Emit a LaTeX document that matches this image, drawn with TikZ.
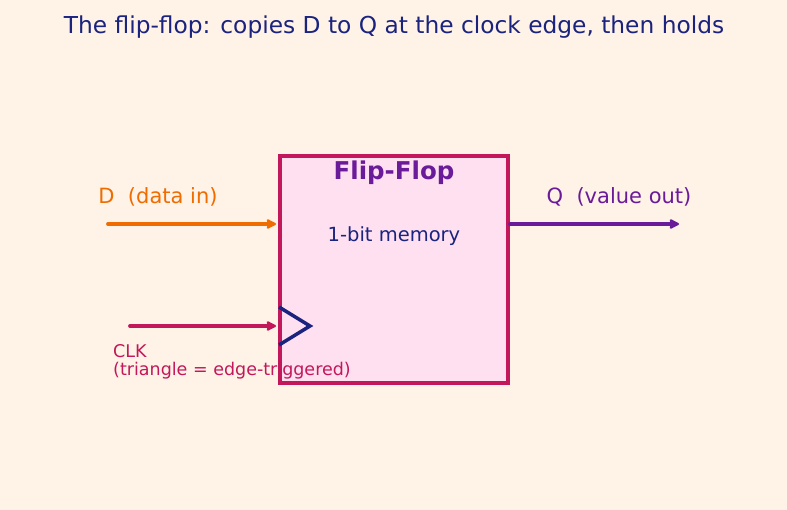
\documentclass[tikz,border=0pt]{standalone}
\usepackage{fontspec}
\setmainfont{DejaVu Sans}
\usetikzlibrary{arrows.meta}
\definecolor{bg}{HTML}{FFF2E6}
\definecolor{boxfill}{HTML}{FFE0F0}
\definecolor{crim}{HTML}{C2185B}
\definecolor{navy}{HTML}{1A237E}
\definecolor{purp}{HTML}{6A1B9A}
\definecolor{orng}{HTML}{EF6C00}
\begin{document}
\begin{tikzpicture}[x=1pt,y=-1pt,
  sig/.style={line width=3.8pt,line cap=round,-{Stealth[length=12pt,width=12pt,inset=3pt,round]}},
  lbl/.style={inner sep=0pt,font=\fontsize{21}{24}\selectfont}]
\fill[bg] (0,0) rectangle (787,510);
\useasboundingbox (0,0) rectangle (787,510);
\node[inner sep=0pt,text=navy,font=\fontsize{23.3}{28}\selectfont] (title) at (394,27) {The flip-flop: copies D to Q at the clock edge, then holds};
\node[draw=crim,fill=boxfill,line width=4.5pt,minimum width=228pt,minimum height=227pt,inner sep=0pt] (ff) at (394,269.5) {};
\node[inner sep=0pt,text=purp,font=\bfseries\fontsize{24.5}{28}\selectfont] (name) at (394,173) {Flip-Flop};
\node[inner sep=0pt,text=navy,font=\fontsize{19.5}{23}\selectfont] (mem) at (394,236) {1-bit memory};
\coordinate (din) at (108,224);
\coordinate (dend) at (276,224);
\draw[sig,orng] (din) -- (dend);
\node[lbl,text=orng] (dl) at (158,197) {D\ \ (data in)};
\coordinate (qs) at (510,224);
\coordinate (qout) at (679,224);
\draw[sig,purp] (qs) -- (qout);
\node[lbl,text=purp] (ql) at (619,197) {Q\ \ (value out)};
\coordinate (cin) at (130,326);
\coordinate (cend) at (276,326);
\draw[sig,crim] (cin) -- (cend);
\coordinate (t1) at (279,307);
\coordinate (t2) at (310,326);
\coordinate (t3) at (279,345);
\draw[navy,line width=3.5pt] (t1) -- (t2) -- (t3);
\node[inner sep=0pt,anchor=west,text=crim,font=\fontsize{17.5}{20}\selectfont] (cl1) at (113,351) {CLK};
\node[inner sep=0pt,anchor=west,text=crim,font=\fontsize{17.5}{20}\selectfont] (cl2) at (113,371) {(triangle = edge-triggered)};
\end{tikzpicture}
\end{document}
